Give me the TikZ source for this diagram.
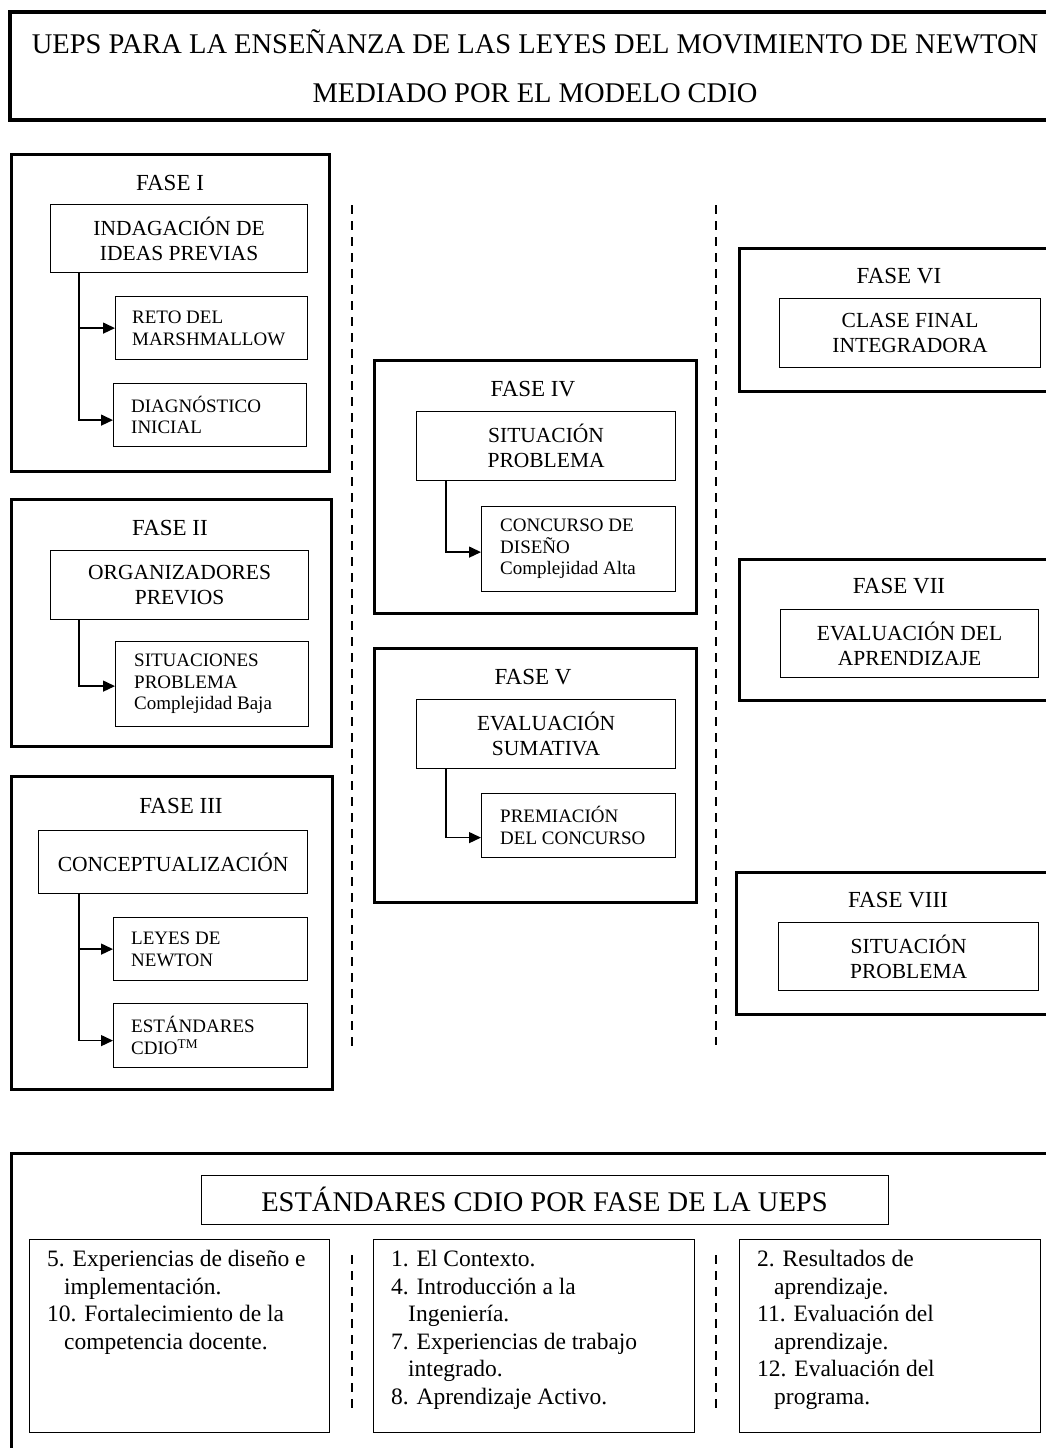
\documentclass[tikz,border=0pt]{standalone}
\usepackage{fontspec}
\setmainfont{Liberation Serif}
\usepackage{tikz}
\usetikzlibrary{arrows.meta,
                positioning}
\tikzset{
        titlebox/.style={draw, line width=3.5pt, inner sep=0pt, align=center,
                         font=\fontsize{28.5}{49}\selectfont},
        fasebox/.style={draw, line width=2.6pt, inner sep=0pt, anchor=north west},
        fasename/.style={inner sep=0pt, font=\fontsize{23}{26}\selectfont},
        mainbox/.style={draw, line width=1.2pt, inner sep=0pt, align=center,
                        anchor=north west, font=\fontsize{21.5}{25}\selectfont},
        subbox/.style={draw, line width=1.2pt, inner sep=0pt, anchor=north west},
        subtext/.style={inner sep=0pt, align=left, font=\fontsize{19}{21.5}\selectfont},
        stdbox/.style={draw, line width=1pt, inner sep=0pt, anchor=north west},
        stdtext/.style={inner sep=0pt, align=left, anchor=north west,
                        font=\fontsize{23.5}{27.5}\selectfont},
        myarrow/.style={-{Triangle[length=12pt, width=11pt]}, line width=1.4pt},
        divider/.style={line width=1.8pt, dash pattern=on 9pt off 7pt},
 }
\newcommand{\cont}{\hspace*{17pt}}

\begin{document}
\begin{tikzpicture}[x=1pt, y=-1pt]
    \useasboundingbox (0,0) rectangle (1045,1448);

    % titulo
    \node[titlebox, minimum width=1050pt, minimum height=108pt] (title) at (535,66)
    {UEPS PARA LA ENSEÑANZA DE LAS LEYES DEL MOVIMIENTO DE NEWTON\\
     MEDIADO POR EL MODELO CDIO};

    % columna izquierda
    \node[fasebox, minimum width=318pt, minimum height=317pt] (fase1) at (10,153) {};
    \node[fasename] (fase1-t) at (170,183) {FASE I};
    \node[mainbox, minimum width=257pt, minimum height=68pt] (indag) at (50,204)
    {INDAGACIÓN DE\\IDEAS PREVIAS};
    \node[subbox, minimum width=192pt, minimum height=63pt] (reto) at (115,296) {};
    \node[subtext, right=17pt of reto.west] (reto-t) {RETO DEL\\MARSHMALLOW};
    \node[subbox, minimum width=193pt, minimum height=63pt] (diag) at (113,383) {};
    \node[subtext, right=18pt of diag.west] (diag-t) {DIAGNÓSTICO\\INICIAL};

    \node[fasebox, minimum width=320pt, minimum height=247pt] (fase2) at (10,498) {};
    \node[fasename] (fase2-t) at (170,528) {FASE II};
    \node[mainbox, minimum width=258pt, minimum height=69pt] (organ) at (50,550)
    {ORGANIZADORES\\PREVIOS};
    \node[subbox, minimum width=193pt, minimum height=85pt] (sitbaja) at (115,641) {};
    \node[subtext, right=19pt of sitbaja.west] (sitbaja-t)
    {SITUACIONES\\PROBLEMA\\Complejidad Baja};

    \node[fasebox, minimum width=321pt, minimum height=313pt] (fase3) at (10,775) {};
    \node[fasename] (fase3-t) at (181,806) {FASE III};
    \node[mainbox, minimum width=269pt, minimum height=63pt] (concep) at (38,830)
    {CONCEPTUALIZACIÓN};
    \node[subbox, minimum width=194pt, minimum height=63pt] (leyes) at (113,917) {};
    \node[subtext, right=18pt of leyes.west] (leyes-t) {LEYES DE\\NEWTON};
    \node[subbox, minimum width=194pt, minimum height=64pt] (estand) at (113,1003) {};
    \node[subtext, right=18pt of estand.west] (estand-t) {ESTÁNDARES\\CDIO\textsuperscript{TM}};

    \coordinate (trunkA) at (79,0);
    \draw[myarrow] (indag.south -| trunkA) |- (reto.west);
    \draw[myarrow] (indag.south -| trunkA) |- ([yshift=-5pt]diag.west);
    \draw[myarrow] (organ.south -| trunkA) |- ([yshift=-2pt]sitbaja.west);
    \draw[myarrow] (concep.south -| trunkA) |- (leyes.west);
    \draw[myarrow] (concep.south -| trunkA) |- ([yshift=-5pt]estand.west);

    % columna central
    \node[fasebox, minimum width=322pt, minimum height=253pt] (fase4) at (373,359) {};
    \node[fasename] (fase4-t) at (533,389) {FASE IV};
    \node[mainbox, minimum width=259pt, minimum height=69pt] (sitprob4) at (416,411)
    {SITUACIÓN\\PROBLEMA};
    \node[subbox, minimum width=194pt, minimum height=85pt] (concurso) at (481,506) {};
    \node[subtext, right=19pt of concurso.west] (concurso-t)
    {CONCURSO DE\\DISEÑO\\Complejidad Alta};

    \node[fasebox, minimum width=322pt, minimum height=254pt] (fase5) at (373,647) {};
    \node[fasename] (fase5-t) at (533,677) {FASE V};
    \node[mainbox, minimum width=259pt, minimum height=69pt] (evsum) at (416,699)
    {EVALUACIÓN\\SUMATIVA};
    \node[subbox, minimum width=194pt, minimum height=64pt] (premio) at (481,793) {};
    \node[subtext, right=19pt of premio.west] (premio-t) {PREMIACIÓN\\DEL CONCURSO};

    \coordinate (trunkB) at (446,0);
    \draw[myarrow] (sitprob4.south -| trunkB) |- ([yshift=-3pt]concurso.west);
    \draw[myarrow] (evsum.south -| trunkB) |- ([yshift=-12pt]premio.west);

    % columna derecha
    \node[fasebox, minimum width=322pt, minimum height=143pt] (fase6) at (738,247) {};
    \node[fasename] (fase6-t) at (899,276) {FASE VI};
    \node[mainbox, minimum width=261pt, minimum height=69pt] (clase) at (779,298)
    {CLASE FINAL\\INTEGRADORA};

    \node[fasebox, minimum width=322pt, minimum height=141pt] (fase7) at (738,558) {};
    \node[fasename] (fase7-t) at (899,586) {FASE VII};
    \node[mainbox, minimum width=258pt, minimum height=68pt] (evapr) at (780,609)
    {EVALUACIÓN DEL\\APRENDIZAJE};

    \node[fasebox, minimum width=325pt, minimum height=142pt] (fase8) at (735,871) {};
    \node[fasename] (fase8-t) at (898,900) {FASE VIII};
    \node[mainbox, minimum width=260pt, minimum height=68pt] (sitprob8) at (778,922)
    {SITUACIÓN\\PROBLEMA};

    % separadores
    \coordinate (divA-top) at (352,205);
    \coordinate (divA-bot) at (352,1048);
    \coordinate (divB-top) at (716,205);
    \coordinate (divB-bot) at (716,1045);
    \draw[divider] (divA-top) -- (divA-bot);
    \draw[divider] (divB-top) -- (divB-bot);

    % estandares por fase
    \node[fasebox, line width=3pt, minimum width=1050pt, minimum height=310pt] (std) at (10,1152) {};
    \node[draw, line width=1pt, minimum width=687pt, minimum height=49pt,
          font=\fontsize{28.5}{32}\selectfont] (stdhead) at (544.5,1199.5)
    {ESTÁNDARES CDIO POR FASE DE LA UEPS};

    \node[stdbox, minimum width=300pt, minimum height=193pt] (std1) at (29,1239) {};
    \node[stdtext] (std1-t) at ([xshift=18pt, yshift=-11pt]std1.north west)
    {5. Experiencias de diseño e\\\cont implementación.\\
     10. Fortalecimiento de la\\\cont competencia docente.};

    \node[stdbox, minimum width=321pt, minimum height=193pt] (std2) at (373,1239) {};
    \node[stdtext] (std2-t) at ([xshift=18pt, yshift=-11pt]std2.north west)
    {1. El Contexto.\\4. Introducción a la\\\cont Ingeniería.\\
     7. Experiencias de trabajo\\\cont integrado.\\8. Aprendizaje Activo.};

    \node[stdbox, minimum width=301pt, minimum height=193pt] (std3) at (739,1239) {};
    \node[stdtext] (std3-t) at ([xshift=18pt, yshift=-11pt]std3.north west)
    {2. Resultados de\\\cont aprendizaje.\\11. Evaluación del\\\cont aprendizaje.\\
     12. Evaluación del\\\cont programa.};

    \coordinate (divC-top) at (352,1255);
    \coordinate (divC-bot) at (352,1410);
    \coordinate (divD-top) at (716,1255);
    \coordinate (divD-bot) at (716,1410);
    \draw[divider, line width=1.4pt] (divC-top) -- (divC-bot);
    \draw[divider, line width=1.4pt] (divD-top) -- (divD-bot);
\end{tikzpicture}
\end{document}
